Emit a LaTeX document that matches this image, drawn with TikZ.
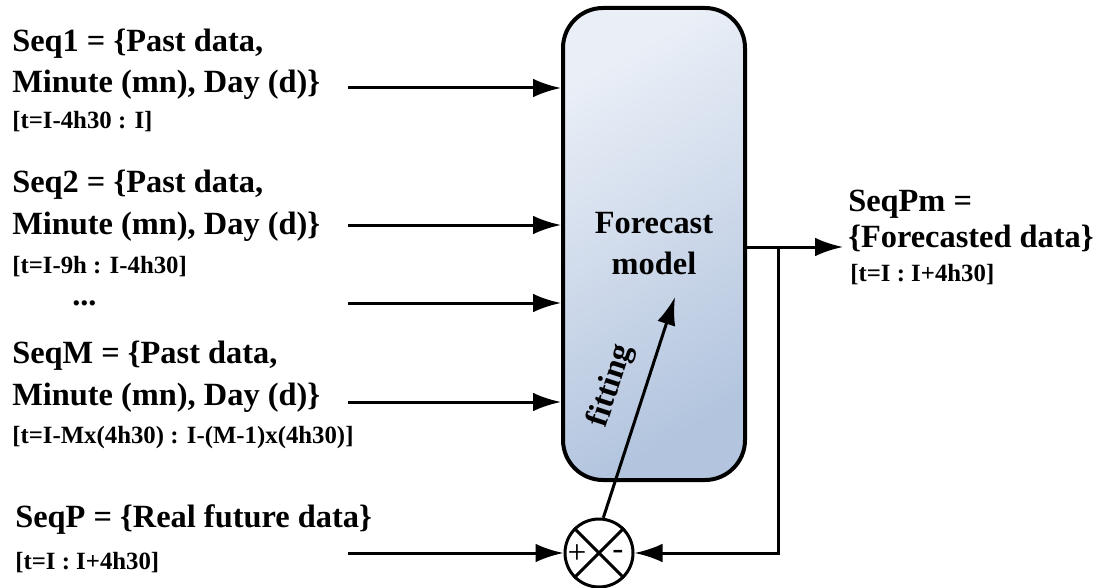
\documentclass[tikz,border=0pt]{standalone}
\usepackage{fontspec}
\setmainfont{Liberation Serif}
\usetikzlibrary{arrows.meta}
\definecolor{boxtop}{RGB}{234,239,247}
\definecolor{boxbot}{RGB}{178,196,222}
\def\bigbf{\fontsize{24.3}{30.8}\selectfont\bfseries}
\def\smallbf{\fontsize{18.6}{22}\selectfont\bfseries}
\tikzset{
  seqtxt/.style={anchor=base west, align=left, inner sep=0, font=\bigbf},
  rangetxt/.style={anchor=base west, inner sep=0, font=\smallbf},
  flow/.style={line width=2.25pt, -{Latex[length=21pt,width=14pt]}},
}

\begin{document}
\begin{tikzpicture}[x=0.75pt, y=-0.75pt]
			%%%%% START %%%%%
			\useasboundingbox (0,0) rectangle (1102,588);
			
			\node[draw, line width=3pt, rounded corners=30pt, minimum width=136.5pt, minimum height=354pt, top color=boxtop, bottom color=boxbot, shading angle=30, align=center, font=\bigbf] (model) at (654,244) {Forecast\\model};
			
			% base of a two-line node is its last line
			\node[seqtxt] (seq1) at (12,93) {Seq1 = \{Past data,\\Minute (mn), Day (d)\}};
			\node[rangetxt] (rng1) at (12,129) {[t=I-4h30 : I]};
			
			\node[seqtxt] (seq2) at (12,234) {Seq2 = \{Past data,\\Minute (mn), Day (d)\}};
			\node[rangetxt] (rng2) at (12,273) {[t=I-9h : I-4h30]};
			\node[seqtxt] (dots) at (72,305) {...};
			
			\node[seqtxt] (seqM) at (12,405) {SeqM = \{Past data,\\Minute (mn), Day (d)\}};
			\node[rangetxt] (rngM) at (12,443) {[t=I-Mx(4h30) : I-(M-1)x(4h30)]};
			
			\node[seqtxt] (seqP) at (15,527) {SeqP = \{Real future data\}};
			\node[rangetxt] (rngP) at (15,569) {[t=I : I+4h30]};
			
			\node[seqtxt, font=\fontsize{24.3}{26.3}\selectfont\bfseries] (seqPm) at (848,247) {SeqPm =\\\{Forecasted data\}};
			\node[rangetxt] (rngPm) at (850,281) {[t=I : I+4h30]};
			
			\coordinate (in1) at (348,88);
			\coordinate (in2) at (348,225);
			\coordinate (in3) at (348,303);
			\coordinate (inM) at (348,402);
			\draw[flow] (in1) -- (in1 -| model.west);
			\draw[flow] (in2) -- (in2 -| model.west);
			\draw[flow] (in3) -- (in3 -| model.west);
			\draw[flow] (inM) -- (inM -| model.west);
			
			\node[draw, circle, line width=2.25pt, minimum size=51pt, inner sep=0] (sum) at (599,553) {};
			\draw[line width=2.25pt] (sum.45) -- (sum.225) (sum.135) -- (sum.315);
			\node[font=\fontsize{25}{25}\selectfont] (plus) at (577,554) {+};
			\node[font=\fontsize{25}{25}\selectfont] (minus) at (618,555) {-};
			
			\coordinate (inP) at (348,553);
			\draw[flow] (inP) -- (sum.west);
			
			\coordinate (out) at (843,247);
			\coordinate (tap) at (778,247);
			\draw[flow] (model.east |- out) -- (out);
			\draw[flow] (tap) |- (sum.east);
			
			\coordinate (fit) at (675,297);
			\draw[flow] (sum.83) -- (fit) node[sloped, above=9pt, pos=0.55, font=\bigbf] (fitlbl) {fitting};
			
			%%%%% END %%%%%
\end{tikzpicture}
\end{document}
